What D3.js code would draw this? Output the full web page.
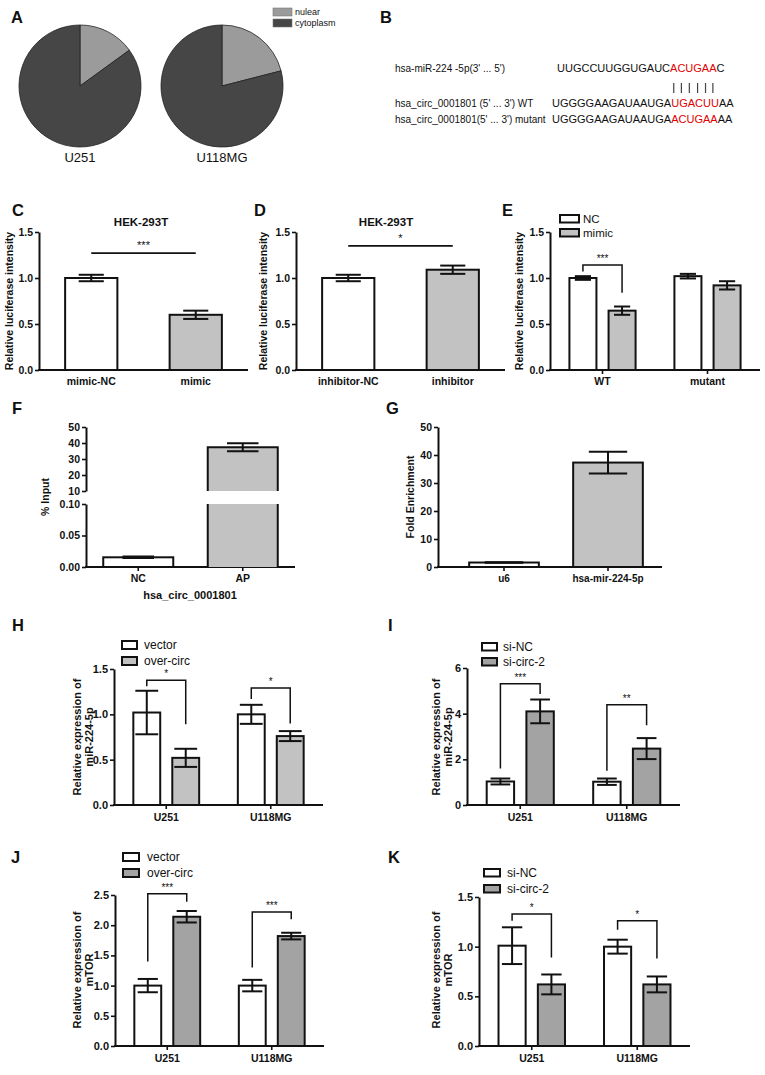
<!DOCTYPE html>
<html><head><meta charset="utf-8">
<script src="https://cdn.jsdelivr.net/npm/d3@7"></script>
<style>
body{margin:0;background:#fff}
svg{display:block}
text{font-family:"Liberation Sans",Arial,Helvetica,sans-serif;fill:#111}
</style></head>
<body><svg id="c" width="765" height="1075"></svg>
<script>
// ---------------- DATA ----------------
const pieCells = ["U251", "U118MG"];
const pieParts = ["nulear", "cytoplasm"];
const nuclearShare = [15, 21];
const cytoplasmShare = [85, 79];

const seqLabels = ["hsa-miR-224 -5p(3' ... 5')", "hsa_circ_0001801 (5' ... 3') WT", "hsa_circ_0001801(5' ... 3') mutant"];
const seqPre  = ["UUGCCUUGGUGAUC", "UGGGGAAGAUAAUGA", "UGGGGAAGAUAAUGA"];
const seqSite = ["ACUGAA", "UGACUU", "ACUGAA"];
const seqPost = ["C", "AA", "AA"];

const lucTicks = [0, 0.5, 1.0, 1.5];
const cGroups = ["mimic-NC", "mimic"];
const cMean = [1.00, 0.60];
const cErr = [0.035, 0.045];
const cSig = {label: "***", y: 1.27};

const dGroups = ["inhibitor-NC", "inhibitor"];
const dMean = [1.00, 1.09];
const dErr = [0.035, 0.045];
const dSig = {label: "*", y: 1.35};

const eGroups = ["WT", "mutant"];
const eSeries = ["NC", "mimic"];
const eNC = [1.00, 1.02];
const eNCErr = [0.02, 0.025];
const eMimic = [0.645, 0.92];
const eMimicErr = [0.045, 0.045];
const eSig = [{group: 0, label: "***", top: 1.14, leftLow: 1.07, rightLow: 0.84}];

const fGroups = ["NC", "AP"];
const fMean = [0.0154, 37.4];
const fErr = [0.0012, 2.5];
const fTicksLow = [0, 0.05, 0.10];
const fTicksHigh = [10, 20, 30, 40, 50];

const gGroups = ["u6", "hsa-mir-224-5p"];
const gMean = [1.6, 37.3];
const gErr = [0.1, 3.9];
const gTicks = [0, 10, 20, 30, 40, 50];

const cellGroups = ["U251", "U118MG"];
const hSeries = ["vector", "over-circ"];
const hVector = [1.02, 1.00];
const hVectorErr = [0.24, 0.105];
const hOver = [0.52, 0.76];
const hOverErr = [0.10, 0.055];
const hTicks = [0, 0.5, 1.0, 1.5];
const hSig = [{group: 0, label: "*", top: 1.375, leftLow: 1.31, rightLow: 0.89},
              {group: 1, label: "*", top: 1.29, leftLow: 1.17, rightLow: 0.90}];

const iSeries = ["si-NC", "si-circ-2"];
const iNC = [1.03, 1.02];
const iNCErr = [0.13, 0.14];
const iSi = [4.10, 2.47];
const iSiErr = [0.52, 0.46];
const iTicks = [0, 2, 4, 6];
const iSig = [{group: 0, label: "***", top: 5.31, leftLow: 1.6, rightLow: 4.86},
              {group: 1, label: "**", top: 4.39, leftLow: 1.5, rightLow: 3.49}];

const jSeries = ["vector", "over-circ"];
const jVector = [1.00, 1.00];
const jVectorErr = [0.11, 0.095];
const jOver = [2.14, 1.82];
const jOverErr = [0.095, 0.055];
const jTicks = [0, 0.5, 1.0, 1.5, 2.0, 2.5];
const jSig = [{group: 0, label: "***", top: 2.52, leftLow: 1.40, rightLow: 2.39},
              {group: 1, label: "***", top: 2.22, leftLow: 1.30, rightLow: 2.10}];

const kSeries = ["si-NC", "si-circ-2"];
const kNC = [1.01, 1.00];
const kNCErr = [0.185, 0.07];
const kSi = [0.62, 0.62];
const kSiErr = [0.10, 0.08];
const kTicks = [0, 0.5, 1.0, 1.5];
const kSig = [{group: 0, label: "*", top: 1.33, leftLow: 1.26, rightLow: 0.89},
              {group: 1, label: "*", top: 1.26, leftLow: 1.17, rightLow: 0.88}];

// ---------------- STYLE ----------------
const WHITE = "#ffffff", LIGHT = "#c2c2c2", MID = "#a3a3a3";
const pieColors = ["#9b9b9b", "#464646"];
const svg = d3.select("#c");

function letter(t, x, y) {
  svg.append("text").attr("x", x).attr("y", y).attr("font-size", 16.5)
    .attr("font-weight", "bold").text(t);
}
function ylab(lines, x, yc, size) {
  lines.forEach((l, i) => {
    svg.append("text").attr("transform", `translate(${x + i * (size + 1.5)},${yc}) rotate(-90)`)
      .attr("text-anchor", "middle").attr("dy", "0.35em").attr("font-size", size)
      .attr("font-weight", "bold").text(l);
  });
}
function styleAxis(g, size) {
  g.select(".domain").attr("stroke", "#111").attr("stroke-width", 2);
  g.selectAll(".tick line").attr("stroke", "#111").attr("stroke-width", 1.6);
  g.selectAll(".tick text").attr("font-size", size).attr("font-weight", "bold")
    .attr("fill", "#111").style("font-family", '"Liberation Sans",Arial,sans-serif');
}
function errBar(cx, y, m, e, capW) {
  const g = svg.append("g").attr("stroke", "#111").attr("stroke-width", 2);
  g.append("line").attr("x1", cx).attr("x2", cx).attr("y1", y(m - e)).attr("y2", y(m + e));
  g.append("line").attr("x1", cx - capW / 2).attr("x2", cx + capW / 2).attr("y1", y(m + e)).attr("y2", y(m + e));
  g.append("line").attr("x1", cx - capW / 2).attr("x2", cx + capW / 2).attr("y1", y(m - e)).attr("y2", y(m - e));
}

function barPanel(cfg) {
  const y = d3.scaleLinear().domain([0, d3.max(cfg.ticks)]).range(cfg.yRange);
  const x = d3.scaleBand().domain(cfg.groups).range(cfg.xRange);
  const gy = svg.append("g").attr("transform", `translate(${cfg.axisX},0)`)
    .call(d3.axisLeft(y).tickValues(cfg.ticks).tickFormat(d3.format(cfg.fmt)).tickSize(4).tickSizeOuter(0).tickPadding(2));
  styleAxis(gy, cfg.tickFont);
  const gx = svg.append("g").attr("transform", `translate(0,${cfg.yRange[0]})`)
    .call(d3.axisBottom(x).tickSize(cfg.xTickUp ? -4 : 4).tickSizeOuter(0).tickPadding(cfg.xPad));
  styleAxis(gx, cfg.xFont);
  gx.select(".domain").remove();
  svg.append("line").attr("x1", cfg.axisX - 1).attr("x2", cfg.axisEnd).attr("y1", cfg.yRange[0]).attr("y2", cfg.yRange[0])
    .attr("stroke", "#111").attr("stroke-width", 2);

  const names = cfg.series.map(s => s.name);
  const w = x.bandwidth() * (names.length === 1 ? cfg.barFrac : cfg.pairFrac);
  const inner = d3.scaleBand().domain(names).range([-w / 2, w / 2]).paddingInner(names.length === 1 ? 0 : cfg.innerPad);
  const bw = inner.bandwidth();
  const centre = (gi, si) => x(cfg.groups[gi]) + x.bandwidth() / 2 + inner(names[si]) + bw / 2;

  cfg.series.forEach((s, si) => {
    cfg.groups.forEach((g, gi) => {
      const cx = centre(gi, si);
      svg.append("rect").attr("x", cx - bw / 2).attr("y", y(s.mean[gi]))
        .attr("width", bw).attr("height", y(0) - y(s.mean[gi]))
        .attr("fill", Array.isArray(s.fill) ? s.fill[gi] : s.fill)
        .attr("stroke", "#111").attr("stroke-width", 2);
      errBar(cx, y, s.mean[gi], s.err[gi], bw * cfg.capFrac);
    });
  });

  if (cfg.line) {
    const x1 = centre(0, 0), x2 = centre(1, 0);
    svg.append("line").attr("x1", x1).attr("x2", x2).attr("y1", y(cfg.line.y)).attr("y2", y(cfg.line.y))
      .attr("stroke", "#111").attr("stroke-width", 1.8);
    svg.append("text").attr("x", (x1 + x2) / 2).attr("y", y(cfg.line.y) - 4).attr("text-anchor", "middle")
      .attr("font-size", 11).text(cfg.line.label);
  }
  (cfg.brackets || []).forEach(b => {
    const lx = centre(b.group, 0), rx = centre(b.group, 1);
    svg.append("path").attr("d", `M${lx},${y(b.leftLow)}V${y(b.top)}H${rx}V${y(b.rightLow)}`)
      .attr("fill", "none").attr("stroke", "#111").attr("stroke-width", 1.5);
    svg.append("text").attr("x", (lx + rx) / 2).attr("y", y(b.top) - 3).attr("text-anchor", "middle")
      .attr("font-size", 10).text(b.label);
  });
  if (cfg.legend) {
    const L = cfg.legend;
    cfg.series.forEach((s, si) => {
      svg.append("rect").attr("x", L.x).attr("y", L.y + si * L.step).attr("width", L.w).attr("height", L.h)
        .attr("fill", Array.isArray(s.fill) ? s.fill[si] : s.fill).attr("stroke", "#111").attr("stroke-width", 2);
      svg.append("text").attr("x", L.x + L.w + L.gap).attr("y", L.y + si * L.step + L.h / 2).attr("dy", "0.36em")
        .attr("font-size", L.size).text(s.name);
    });
  }
}

// ---------------- A : pies ----------------
letter("A", 11, 23);
const pieX = d3.scalePoint().domain(pieCells).range([80, 222]);
const pieGen = d3.pie().sort(null).value(d => d);
const arc = d3.arc().innerRadius(0).outerRadius(61);
pieCells.forEach((cell, i) => {
  const g = svg.append("g").attr("transform", `translate(${pieX(cell)},86)`);
  g.selectAll("path").data(pieGen([nuclearShare[i], cytoplasmShare[i]])).join("path")
    .attr("d", arc).attr("fill", (d, j) => pieColors[j]).attr("stroke", "#222").attr("stroke-width", 0.8);
  svg.append("text").attr("x", pieX(cell)).attr("y", 162).attr("text-anchor", "middle")
    .attr("font-size", 13).text(cell);
});
pieParts.forEach((p, j) => {
  svg.append("rect").attr("x", 273).attr("y", 8 + j * 11).attr("width", 19).attr("height", 8)
    .attr("fill", pieColors[j]).attr("stroke", "#777").attr("stroke-width", 0.6);
  svg.append("text").attr("x", 295).attr("y", 12 + j * 11).attr("dy", "0.36em").attr("font-size", 9).text(p);
});

// ---------------- B : sequences ----------------
letter("B", 380, 23);
const rowY = [72, 107, 123];
const seqX = [557, 552, 552];
let miRNode = null;
seqLabels.forEach((l, i) => {
  svg.append("text").attr("x", 395).attr("y", rowY[i]).attr("font-size", 10).text(l);
  const t = svg.append("text").attr("x", seqX[i]).attr("y", rowY[i]).attr("font-size", 11);
  t.append("tspan").text(seqPre[i]);
  t.append("tspan").attr("fill", "#e00000").style("fill", "#e00000").text(seqSite[i]);
  t.append("tspan").text(seqPost[i]);
  if (i === 0) miRNode = t.node();
});
{
  const start = seqPre[0].length;
  for (let k = 0; k < seqSite[0].length; k++) {
    const px = seqX[0] + miRNode.getSubStringLength(0, start + k) + miRNode.getSubStringLength(start + k, 1) / 2;
    svg.append("line").attr("x1", px).attr("x2", px).attr("y1", 83).attr("y2", 93)
      .attr("stroke", "#444").attr("stroke-width", 1.2);
  }
}

// ---------------- C, D, E ----------------
letter("C", 12, 216);
svg.append("text").attr("x", 141).attr("y", 226).attr("text-anchor", "middle").attr("font-size", 11.5).attr("font-weight", "bold").text("HEK-293T");
barPanel({groups: cGroups, series: [{name: "s", mean: cMean, err: cErr, fill: [WHITE, LIGHT]}],
  ticks: lucTicks, fmt: ".1f", yRange: [370, 232], xRange: [39, 248], axisX: 39, axisEnd: 248,
  barFrac: 0.5, capFrac: 0.48, xTickUp: true, xPad: 7.5, tickFont: 10.5, xFont: 10.5, line: cSig});
ylab(["Relative luciferase intensity"], 9, 301, 10.5);

letter("D", 254, 216);
svg.append("text").attr("x", 386).attr("y", 226).attr("text-anchor", "middle").attr("font-size", 11.5).attr("font-weight", "bold").text("HEK-293T");
barPanel({groups: dGroups, series: [{name: "s", mean: dMean, err: dErr, fill: [WHITE, LIGHT]}],
  ticks: lucTicks, fmt: ".1f", yRange: [370, 232], xRange: [296, 505], axisX: 296, axisEnd: 505,
  barFrac: 0.5, capFrac: 0.48, xTickUp: true, xPad: 7.5, tickFont: 10.5, xFont: 10.5, line: dSig});
ylab(["Relative luciferase intensity"], 263, 301, 10.5);

letter("E", 502, 216);
barPanel({groups: eGroups,
  series: [{name: eSeries[0], mean: eNC, err: eNCErr, fill: WHITE}, {name: eSeries[1], mean: eMimic, err: eMimicErr, fill: LIGHT}],
  ticks: lucTicks, fmt: ".1f", yRange: [370, 232], xRange: [550, 760], axisX: 550, axisEnd: 760,
  pairFrac: 0.63, innerPad: 0.31, capFrac: 0.6, xTickUp: false, xPad: 3.5, tickFont: 10.5, xFont: 10.5,
  brackets: eSig, legend: {x: 560, y: 215, step: 14, w: 19, h: 7.5, gap: 4, size: 11.5}});
ylab(["Relative luciferase intensity"], 519, 301, 10.5);

// ---------------- F : broken axis ----------------
letter("F", 12, 414);
{
  const fx = d3.scaleBand().domain(fGroups).range([86, 295]);
  const yLow = d3.scaleLinear().domain([0, 0.10]).range([567, 504]);
  const yHigh = d3.scaleLinear().domain([10, 50]).range([491, 427]);
  const a1 = svg.append("g").attr("transform", "translate(86,0)")
    .call(d3.axisLeft(yLow).tickValues(fTicksLow).tickFormat(d3.format(".2f")).tickSize(4).tickSizeOuter(0).tickPadding(2));
  styleAxis(a1, 10.5);
  const a2 = svg.append("g").attr("transform", "translate(86,0)")
    .call(d3.axisLeft(yHigh).tickValues(fTicksHigh).tickFormat(d3.format("d")).tickSize(4).tickSizeOuter(0).tickPadding(2));
  styleAxis(a2, 10.5);
  const gx = svg.append("g").attr("transform", "translate(0,567)")
    .call(d3.axisBottom(fx).tickSize(4).tickSizeOuter(0).tickPadding(3.5));
  styleAxis(gx, 10.5);
  gx.select(".domain").remove();
  svg.append("line").attr("x1", 85).attr("x2", 295).attr("y1", 567).attr("y2", 567).attr("stroke", "#111").attr("stroke-width", 2);
  const fills = [WHITE, LIGHT];
  const bw = fx.bandwidth() * 0.67;
  fGroups.forEach((g, i) => {
    const cx = fx(g) + fx.bandwidth() / 2, x0 = cx - bw / 2, x1 = cx + bw / 2;
    const v = fMean[i];
    if (v <= 0.10) {
      svg.append("rect").attr("x", x0).attr("y", yLow(v)).attr("width", bw).attr("height", yLow(0) - yLow(v))
        .attr("fill", fills[i]).attr("stroke", "#111").attr("stroke-width", 2);
      errBar(cx, yLow, v, fErr[i], bw * 0.45);
    } else {
      svg.append("rect").attr("x", x0).attr("y", yLow(0.10)).attr("width", bw).attr("height", yLow(0) - yLow(0.10)).attr("fill", fills[i]);
      svg.append("rect").attr("x", x0).attr("y", yHigh(v)).attr("width", bw).attr("height", yHigh(10) - yHigh(v)).attr("fill", fills[i]);
      svg.append("path").attr("d", `M${x0},${yLow(0)}V${yLow(0.10)}M${x1},${yLow(0.10)}V${yLow(0)}M${x0},${yHigh(10)}V${yHigh(v)}H${x1}V${yHigh(10)}`)
        .attr("fill", "none").attr("stroke", "#111").attr("stroke-width", 2);
      errBar(cx, yHigh, v, fErr[i], bw * 0.45);
    }
  });
  svg.append("text").attr("x", 190).attr("y", 599).attr("text-anchor", "middle").attr("font-size", 11).attr("font-weight", "bold").text("hsa_circ_0001801");
  ylab(["% Input"], 45, 497, 10.5);
}

// ---------------- G ----------------
letter("G", 386, 414);
barPanel({groups: gGroups, series: [{name: "s", mean: gMean, err: gErr, fill: [WHITE, LIGHT]}],
  ticks: gTicks, fmt: "d", yRange: [567, 427], xRange: [452, 660], axisX: 438, axisEnd: 662,
  barFrac: 0.67, capFrac: 0.55, xTickUp: false, xPad: 3.5, tickFont: 10.5, xFont: 10});
ylab(["Fold Enrichment"], 410, 497, 10.5);

// ---------------- H ----------------
letter("H", 12, 631);
barPanel({groups: cellGroups,
  series: [{name: hSeries[0], mean: hVector, err: hVectorErr, fill: WHITE}, {name: hSeries[1], mean: hOver, err: hOverErr, fill: LIGHT}],
  ticks: hTicks, fmt: ".1f", yRange: [805, 669], xRange: [114, 323], axisX: 114, axisEnd: 323,
  pairFrac: 0.63, innerPad: 0.31, capFrac: 0.85, xTickUp: false, xPad: 5, tickFont: 11, xFont: 10.5,
  brackets: hSig, legend: {x: 122, y: 641, step: 16, w: 15, h: 8, gap: 7, size: 12}});
ylab(["Relative expression of", "miR-224-5p"], 77, 737, 11);

// ---------------- I ----------------
letter("I", 388, 631);
barPanel({groups: cellGroups,
  series: [{name: iSeries[0], mean: iNC, err: iNCErr, fill: WHITE}, {name: iSeries[1], mean: iSi, err: iSiErr, fill: MID}],
  ticks: iTicks, fmt: "d", yRange: [805, 668], xRange: [467, 680], axisX: 467, axisEnd: 680,
  pairFrac: 0.63, innerPad: 0.31, capFrac: 0.72, xTickUp: false, xPad: 5, tickFont: 11, xFont: 10.5,
  brackets: iSig, legend: {x: 482, y: 643, step: 15, w: 15, h: 7.5, gap: 6, size: 12}});
ylab(["Relative expression of", "miR-224-5p"], 436, 737, 11);

// ---------------- J ----------------
letter("J", 11, 863);
barPanel({groups: cellGroups,
  series: [{name: jSeries[0], mean: jVector, err: jVectorErr, fill: WHITE}, {name: jSeries[1], mean: jOver, err: jOverErr, fill: MID}],
  ticks: jTicks, fmt: ".1f", yRange: [1046, 895], xRange: [115, 324], axisX: 115, axisEnd: 324,
  pairFrac: 0.63, innerPad: 0.31, capFrac: 0.75, xTickUp: false, xPad: 4.5, tickFont: 11, xFont: 10.5,
  brackets: jSig, legend: {x: 123, y: 853, step: 16, w: 16, h: 8, gap: 8, size: 12}});
ylab(["Relative expression of", "mTOR"], 77, 970, 11);

// ---------------- K ----------------
letter("K", 388, 863);
barPanel({groups: cellGroups,
  series: [{name: kSeries[0], mean: kNC, err: kNCErr, fill: WHITE}, {name: kSeries[1], mean: kSi, err: kSiErr, fill: MID}],
  ticks: kTicks, fmt: ".1f", yRange: [1046, 897], xRange: [479, 690], axisX: 479, axisEnd: 690,
  pairFrac: 0.63, innerPad: 0.31, capFrac: 0.75, xTickUp: false, xPad: 4.5, tickFont: 11, xFont: 10.5,
  brackets: kSig, legend: {x: 484, y: 869, step: 16, w: 16, h: 7.5, gap: 7, size: 12}});
ylab(["Relative expression of", "mTOR"], 436, 970, 11);
</script></body></html>
